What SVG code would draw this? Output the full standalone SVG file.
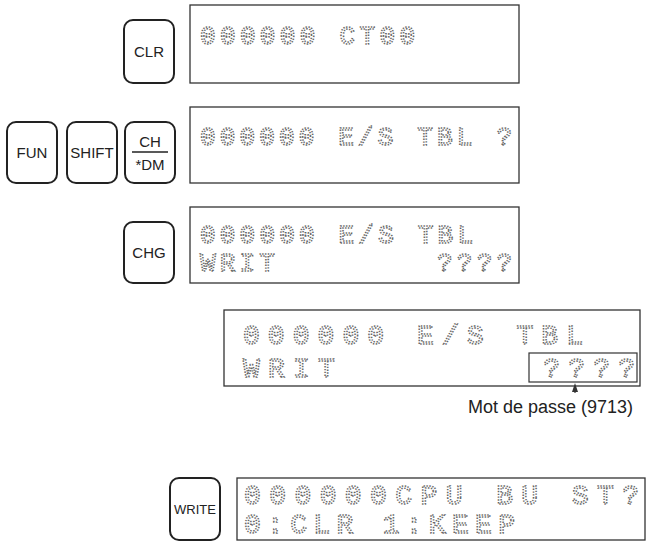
<svg xmlns="http://www.w3.org/2000/svg" width="651" height="548" viewBox="0 0 651 548">
<style>
.key{fill:#fff;stroke:#222;stroke-width:2}
.kt{font-family:"Liberation Sans",Arial,sans-serif;font-size:15px;fill:#222;text-anchor:middle}
.disp{fill:#fff;stroke:#333;stroke-width:1.3}
.lcd{font-family:"Liberation Mono","DejaVu Sans Mono",monospace;fill:none;stroke:#666;stroke-width:1.5;stroke-dasharray:1.4 1.4;white-space:pre}
.s{font-size:26px}.b{font-size:28px}
.lbl{font-family:"Liberation Sans",Arial,sans-serif;font-size:18px;fill:#222}
</style>
<g id="key-clr"><rect class="key" x="124" y="20" width="50" height="63" rx="9"/><text class="kt" x="149" y="57">CLR</text></g>
<g id="disp1"><rect class="disp" x="190" y="5" width="329" height="78"/><text class="lcd s" x="200" y="44" textLength="215">000000 CT00</text></g>
<g id="key-fun"><rect class="key" x="7" y="122" width="50" height="61" rx="9"/><text class="kt" x="32" y="158">FUN</text></g>
<g id="key-shift"><rect class="key" x="67" y="122" width="50" height="61" rx="9"/><text class="kt" x="92" y="158">SHIFT</text></g>
<g id="key-ch"><rect class="key" x="125" y="122" width="50" height="61" rx="9"/><text class="kt" x="150" y="147">CH</text><line x1="132" y1="152" x2="168" y2="152" stroke="#222" stroke-width="1.5"/><text class="kt" x="150" y="170">*DM</text></g>
<g id="disp2"><rect class="disp" x="190" y="107" width="329" height="76"/><text class="lcd s" x="200" y="145" textLength="312">000000 E/S TBL ?</text></g>
<g id="key-chg"><rect class="key" x="124" y="222" width="50" height="61" rx="9"/><text class="kt" x="149" y="258">CHG</text></g>
<g id="disp3"><rect class="disp" x="190" y="207" width="329" height="76"/><text class="lcd s" x="200" y="243" textLength="273">000000 E/S TBL</text><text class="lcd s" x="200" y="271" textLength="312">WRIT        ????</text></g>
<g id="disp4"><rect class="disp" x="224" y="310" width="416" height="76"/><text class="lcd b" x="243" y="344" textLength="340">000000 E/S TBL</text><text class="lcd b" x="243" y="377" textLength="392">WRIT        ????</text><rect x="529" y="353" width="108" height="29" fill="none" stroke="#333" stroke-width="1.2"/></g>
<g id="connectors"><line x1="575" y1="393" x2="575" y2="389" stroke="#333" stroke-width="1.2"/><path d="M575 383 L572 392 L578 392 Z" fill="#333"/></g>
<g id="label"><text class="lbl" x="633" y="413" text-anchor="end">Mot de passe (9713)</text></g>
<g id="key-write"><rect class="key" x="170" y="478" width="50" height="62" rx="9"/><text class="kt" x="195" y="514" style="font-size:13px">WRITE</text></g>
<g id="disp5"><rect class="disp" x="237" y="478" width="408" height="62"/><text class="lcd b" x="244" y="504" textLength="395">000000CPU BU ST?</text><text class="lcd b" x="244" y="533" textLength="271">0:CLR 1:KEEP</text></g>
</svg>
